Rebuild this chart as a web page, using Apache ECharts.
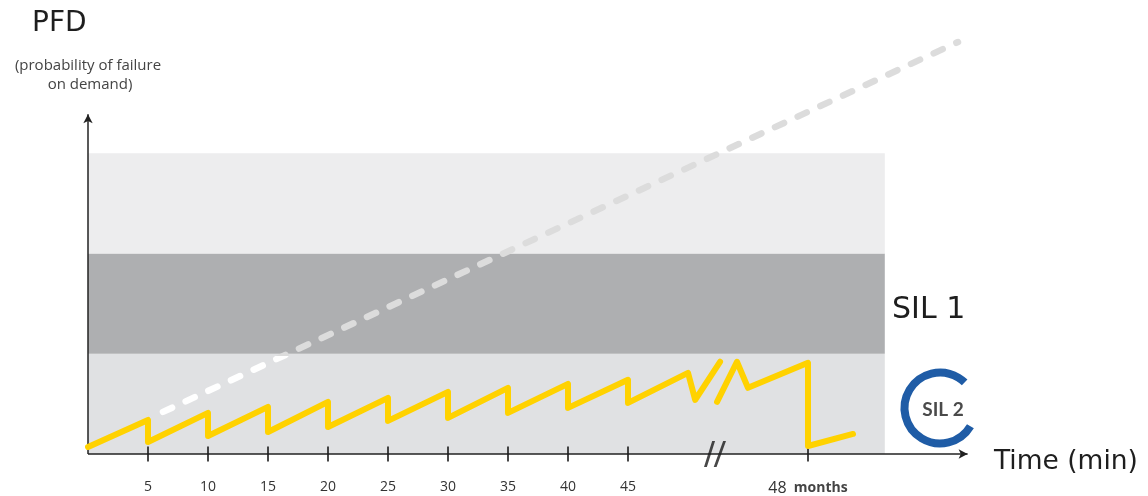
<!DOCTYPE html>
<html>
<head>
<meta charset="utf-8">
<script src="https://cdn.jsdelivr.net/npm/echarts@6/dist/echarts.min.js"></script>
<style>
html,body{margin:0;padding:0;background:#fff;}
#chart{width:1148px;height:496px;}
</style>
</head>
<body>
<div id="chart"></div>
<script>
// x in minutes (break after 45; "48 months" sits at x = 60), y in SIL band units
var tickValues = [5, 10, 15, 20, 25, 30, 35, 40, 45, 60];
var tickLabels = ['5', '10', '15', '20', '25', '30', '35', '40', '45', '48 months'];
var bandLows = [0, 1, 2];
var bandHighs = [1, 2, 3];
var bandEnd = 66.4;
var pfdTestedA = [
  [0, 0.07], [5, 0.34], [5, 0.12], [10, 0.41], [10, 0.18], [15, 0.47], [15, 0.22],
  [20, 0.52], [20, 0.27], [25, 0.56], [25, 0.33], [30, 0.62], [30, 0.36],
  [35, 0.66], [35, 0.41], [40, 0.70], [40, 0.46], [45, 0.74], [45, 0.51],
  [50, 0.81], [50.6, 0.54], [52.67, 0.92]
];
var pfdTestedB = [
  [52.42, 0.52], [54.08, 0.92], [55, 0.66], [60, 0.91], [60, 0.08], [63.75, 0.20]
];
var pfdUntested = [[6.25, 0.42], [72.5, 4.11]];
var axisBreakX = 52.25;
var yAxisTop = 3.39;
var xAxisEnd = 73.3;

var labelMap = {};
tickValues.forEach(function (v, i) { labelMap[v] = tickLabels[i]; });

var chart = echarts.init(document.getElementById('chart'));
var SMALL = '"Open Sans", Lato, sans-serif';
var BIG = '"DejaVu Sans", sans-serif';
var yellow = { color: '#ffd200', width: 6, cap: 'round', join: 'round' };

chart.setOption({
  animation: false,
  backgroundColor: '#ffffff',
  grid: { left: 88, right: 172, top: 33, bottom: 36 },
  xAxis: {
    type: 'value', min: 0, max: 74, interval: 5,
    axisLine: { show: false }, axisTick: { show: false }, splitLine: { show: false },
    axisLabel: {
      margin: 26, fontFamily: SMALL, fontSize: 14, color: '#333',
      showMinLabel: false, showMaxLabel: false,
      formatter: function (v) {
        var s = labelMap[v];
        if (!s) return '';
        if (s.indexOf(' ') > 0) {
          var p = s.split(' ');
          return '{n|' + p[0] + '}  {m|' + p[1] + '}';
        }
        return s;
      },
      rich: {
        n: { fontFamily: SMALL, fontSize: 16, color: '#333' },
        m: { fontFamily: SMALL, fontSize: 14, fontWeight: 'bold', color: '#444' }
      }
    }
  },
  yAxis: { type: 'value', min: 0, max: 4.2, show: false },
  series: [
    {
      type: 'line', data: [[0, 0]], symbol: 'none', lineStyle: { width: 0 }, silent: true,
      markArea: {
        silent: true,
        data: bandLows.map(function (lo, i) {
          var colors = ['#e0e1e3', '#aeafb1', '#ededee'];
          return [{ coord: [0, lo], itemStyle: { color: colors[i] } }, { coord: [bandEnd, bandHighs[i]] }];
        })
      }
    },
    {
      type: 'line', data: pfdUntested, symbol: 'none', silent: true, z: 3,
      lineStyle: {
        width: 6.5, type: [10, 15], cap: 'round',
        color: {
          type: 'linear', x: 0, y: 1, x2: 0, y2: 0,
          colorStops: [
            { offset: 0, color: '#ffffff' },
            { offset: (1 - 0.42) / (4.11 - 0.42), color: '#ffffff' },
            { offset: (1 - 0.42) / (4.11 - 0.42), color: '#dcdcdc' },
            { offset: 1, color: '#dcdcdc' }
          ]
        }
      }
    },
    {
      type: 'line', data: [[0, 0]], symbol: 'none', lineStyle: { width: 0 }, silent: true, z: 4,
      markLine: {
        silent: true, symbol: ['none', 'arrow'], symbolSize: [7, 9],
        label: { show: false },
        lineStyle: { color: '#222', width: 1.5, type: 'solid' },
        data: [
          [{ coord: [0, 0] }, { coord: [0, yAxisTop] }],
          [{ coord: [0, 0] }, { coord: [xAxisEnd, 0] }]
        ]
      }
    },
    {
      type: 'scatter', data: tickValues.map(function (v) { return [v, 0]; }),
      symbol: 'rect', symbolSize: [2, 15], silent: true, z: 5,
      itemStyle: { color: '#1a1a1a' }
    },
    {
      type: 'scatter', data: [[axisBreakX, 0]], silent: true, z: 5,
      symbol: 'path://M0,24L2.8,24L10.8,0L8,0Z M9.5,24L12.3,24L21.5,0L18.7,0Z',
      symbolSize: [22, 26], itemStyle: { color: '#1a1a1a' }
    },
    { type: 'line', data: pfdTestedA, symbol: 'none', silent: true, z: 6, lineStyle: yellow },
    { type: 'line', data: pfdTestedB, symbol: 'none', silent: true, z: 6, lineStyle: yellow }
  ],
  graphic: [
    { type: 'text', left: 32, top: 10, style: { text: 'PFD', font: '28px ' + BIG, fill: '#1e1e1e' } },
    { type: 'text', x: 88, y: 66, style: { text: '(probability of failure', font: '15px ' + SMALL, fill: '#444', align: 'center', verticalAlign: 'middle' } },
    { type: 'text', x: 90, y: 85, style: { text: 'on demand)', font: '15px ' + SMALL, fill: '#444', align: 'center', verticalAlign: 'middle' } },
    { type: 'text', x: 994, y: 462, style: { text: 'Time (min)', font: '26.5px ' + BIG, fill: '#1e1e1e', verticalAlign: 'middle' } },
    { type: 'text', x: 892, y: 310, style: { text: 'SIL 1', font: '30px ' + BIG, fill: '#1e1e1e', verticalAlign: 'middle' } },
    {
      type: 'arc', shape: { cx: 940, cy: 408, r: 35.5, startAngle: 31 * Math.PI / 180, endAngle: 314 * Math.PI / 180, clockwise: true },
      style: { stroke: '#1f5ca6', lineWidth: 8, fill: null }
    },
    { type: 'text', x: 943, y: 410, style: { text: 'SIL 2', font: 'bold 19px Lato, sans-serif', fill: '#4a4a4a', align: 'center', verticalAlign: 'middle' } }
  ]
});
</script>
</body>
</html>
